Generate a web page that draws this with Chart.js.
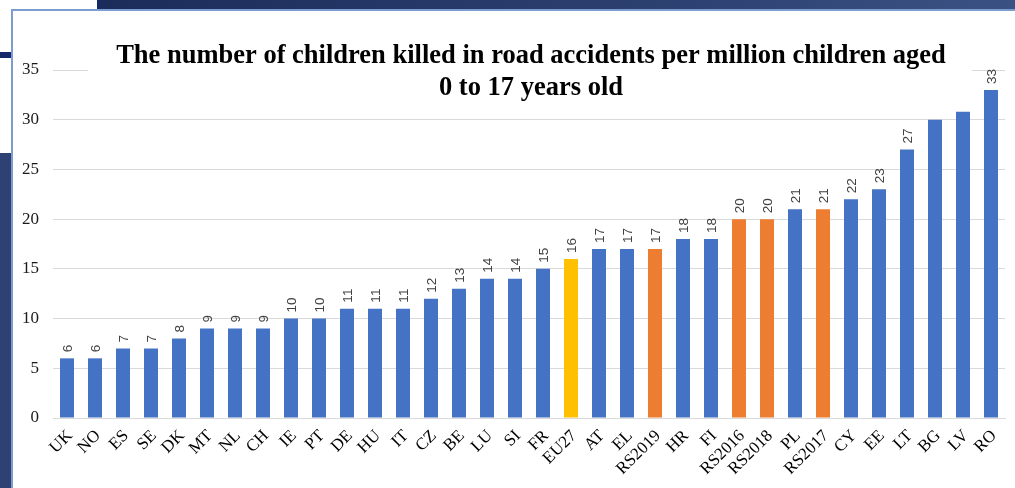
<!DOCTYPE html>
<html>
<head>
<meta charset="utf-8">
<script src="https://cdn.jsdelivr.net/npm/chart.js@4/dist/chart.umd.min.js"></script>
<style>
  body { margin: 0; width: 1015px; height: 488px; overflow: hidden; position: relative;
         background: #2d4272; }
  #topbar { position: absolute; left: 100px; top: 0; width: 915px; height: 10px;
            background: linear-gradient(to right, #1c2c5a, #2c4070 60%, #3a5283); }
  #corner { position: absolute; left: 0; top: 0; width: 97px; height: 52px; background: #fff;
            border-right: 3px solid #15296a; border-bottom: 6px solid #15296a; }
  #leftwhite { position: absolute; left: 0; top: 58px; width: 12px; height: 95px; background: #fff; }
  #panel { position: absolute; left: 12px; top: 9px; width: 1003px; height: 479px; background: #fff; }
  #edgeL { position: absolute; left: 11px; top: 9px; width: 2px; height: 479px; background: #7d9dd0; }
  #edgeT { position: absolute; left: 11px; top: 9px; width: 1004px; height: 2px; background: #7d9dd0; }
</style>
</head>
<body>
<div id="topbar"></div>
<div id="corner"></div>
<div id="leftwhite"></div>
<div id="panel"><canvas id="chart" width="1003" height="479"></canvas></div>
<div id="edgeL"></div>
<div id="edgeT"></div>
<script>
const countries = ["UK", "NO", "ES", "SE", "DK", "MT", "NL", "CH", "IE", "PT", "DE", "HU", "IT", "CZ",
  "BE", "LU", "SI", "FR", "EU27", "AT", "EL", "RS2019", "HR", "FI", "RS2016", "RS2018", "PL",
  "RS2017", "CY", "EE", "LT", "BG", "LV", "RO"];
const killed = [6, 6, 7, 7, 8, 9, 9, 9, 10, 10, 11, 11, 11, 12, 13, 14, 14, 15, 16, 17, 17, 17,
  18, 18, 20, 20, 21, 21, 22, 23, 27, 30, 30.8, 33];
const yTicks = [0, 5, 10, 15, 20, 25, 30, 35];
const unlabeled = ["BG", "LV"];
const titleLines = ["The number of children killed in road accidents per million children aged",
  "0 to 17 years old"];

const BLUE = "#4472c4", ORANGE = "#ed7d31", GOLD = "#ffc000";
const barColors = countries.map(c => c === "EU27" ? GOLD : (c.startsWith("RS") ? ORANGE : BLUE));

// value labels, rotated, sitting on top of each bar
const valueLabels = {
    id: "valueLabels",
    afterDatasetsDraw(chart) {
        const ctx = chart.ctx;
        const meta = chart.getDatasetMeta(0);
        ctx.save();
        ctx.fillStyle = "#404040";
        ctx.font = "13.5px 'Liberation Sans', Arial, sans-serif";
        ctx.textAlign = "left";
        ctx.textBaseline = "middle";
        meta.data.forEach((bar, i) => {
            if (unlabeled.includes(countries[i])) return;
            ctx.save();
            ctx.translate(bar.x + 1, bar.y - 6);
            ctx.rotate(-Math.PI / 2);
            ctx.fillText(String(killed[i]), 0, 0);
            ctx.restore();
        });
        ctx.restore();
    }
};

// title sits inside the plot, on a white box over the top gridline
const overlayTitle = {
    id: "overlayTitle",
    afterDraw(chart) {
        const ctx = chart.ctx;
        ctx.save();
        ctx.fillStyle = "#fff";
        ctx.fillRect(76, 30, 884, 62);
        ctx.fillStyle = "#000";
        ctx.font = "bold 26.5px 'Liberation Serif', 'Times New Roman', serif";
        ctx.textAlign = "center";
        ctx.textBaseline = "alphabetic";
        ctx.fillText(titleLines[0], 519, 54);
        ctx.fillText(titleLines[1], 519, 86);
        ctx.restore();
    }
};

new Chart(document.getElementById("chart").getContext("2d"), {
    type: "bar",
    data: {
        labels: countries,
        datasets: [{
            data: killed,
            backgroundColor: barColors,
            barPercentage: 0.5,
            categoryPercentage: 1.0,
        }],
    },
    options: {
        responsive: false,
        animation: false,
        layout: {padding: {top: 61, right: 10, bottom: 0, left: 0}},
        plugins: {
            legend: {display: false},
            tooltip: {enabled: false},
            title: {display: false},
        },
        scales: {
            x: {
                grid: {display: false},
                border: {display: true, color: "#d9d9d9"},
                ticks: {
                    color: "#000",
                    font: {family: "'Liberation Serif', 'Times New Roman', serif", size: 17},
                    minRotation: 45,
                    maxRotation: 45,
                    autoSkip: false,
                    padding: 0,
                    labelOffset: 3,
                },
                afterFit: scale => { scale.height = 70; },
            },
            y: {
                min: 0,
                max: 35,
                grid: {color: "#d9d9d9", drawTicks: false},
                border: {display: false},
                afterBuildTicks: scale => { scale.ticks = yTicks.map(v => ({value: v})); },
                ticks: {
                    color: "#1a1a1a",
                    font: {family: "'Liberation Serif', 'Times New Roman', serif", size: 17},
                    padding: 14,
                },
                afterFit: scale => { scale.width = 41; },
            },
        },
    },
    plugins: [valueLabels, overlayTitle],
});
</script>
</body>
</html>
